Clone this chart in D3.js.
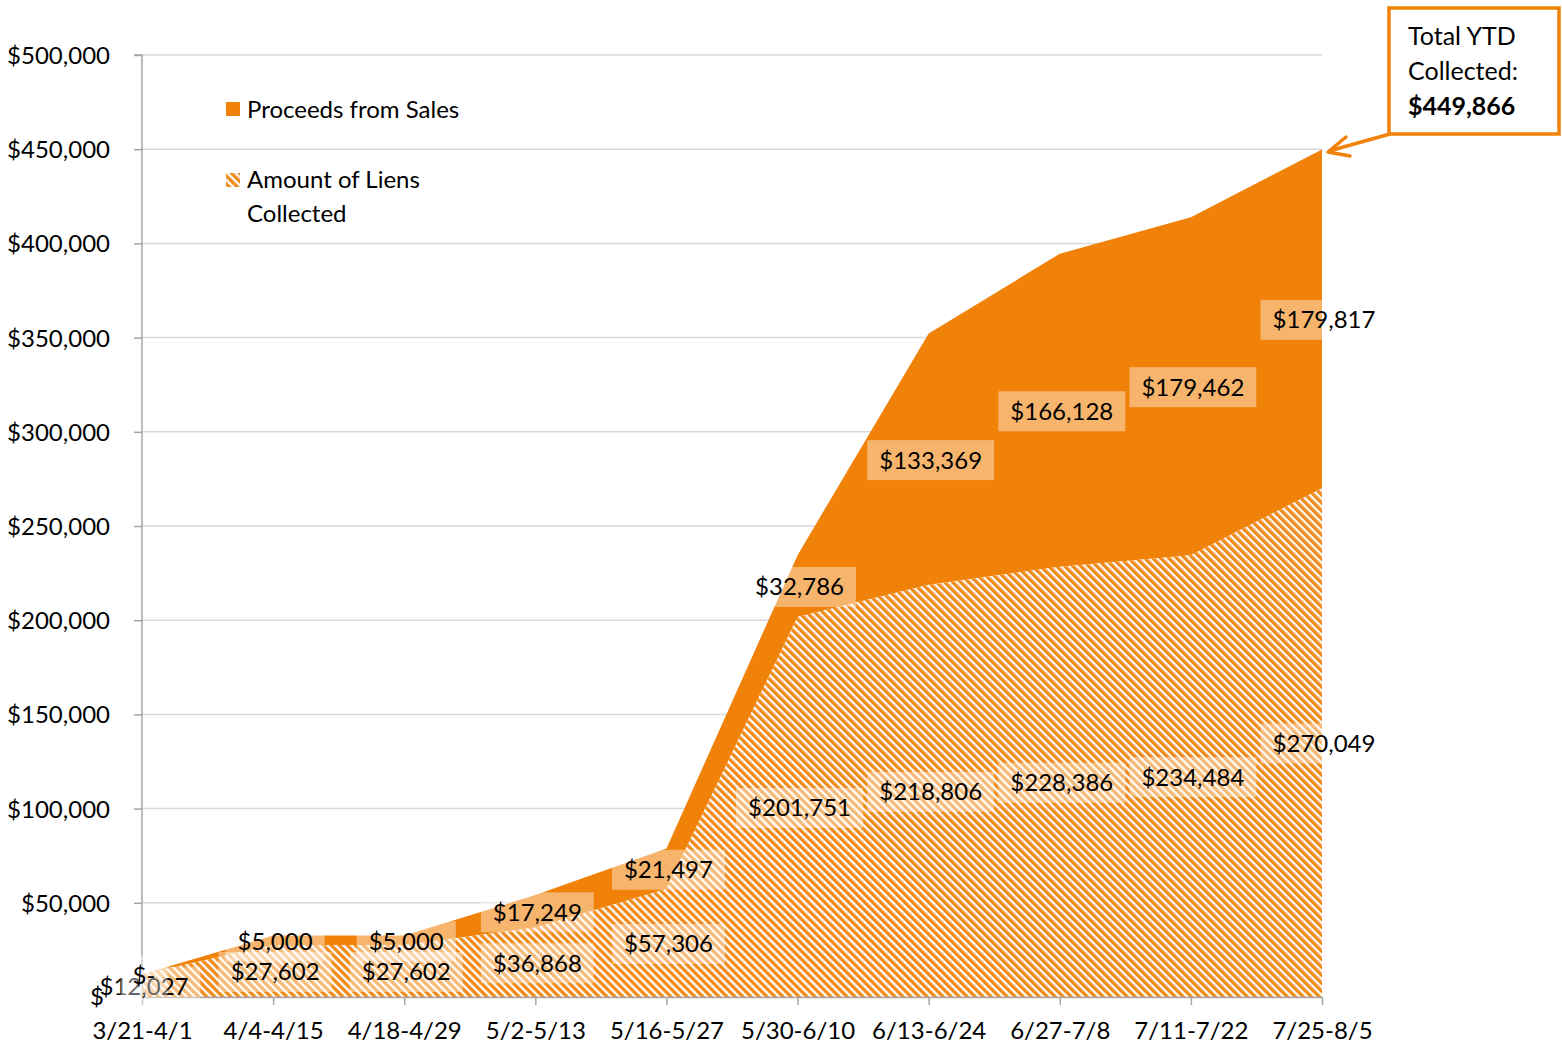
<!DOCTYPE html>
<html><head><meta charset="utf-8">
<script src="https://cdn.jsdelivr.net/npm/d3@7"></script>
<style>html,body{margin:0;padding:0;background:#fff;}svg{display:block;font-family:Lato,"Open Sans",sans-serif;}</style>
</head><body>
<svg id="c" width="1562" height="1047"></svg>
<script>
const categories = ["3/21-4/1","4/4-4/15","4/18-4/29","5/2-5/13","5/16-5/27","5/30-6/10","6/13-6/24","6/27-7/8","7/11-7/22","7/25-8/5"];
const liens = [12027,27602,27602,36868,57306,201751,218806,228386,234484,270049];
const proceeds = [0,5000,5000,17249,21497,32786,133369,166128,179462,179817];
const yTicks = [50000,100000,150000,200000,250000,300000,350000,400000,450000,500000];
const seriesNames = ["Amount of Liens Collected","Proceeds from Sales"];
const totalText = ["Total YTD","Collected:","$449,866"];

const ORANGE = "#F0820A";
const FS = 24;
const svg = d3.select("#c");
const x = d3.scalePoint().domain(categories).range([142,1322]);
const y = d3.scaleLinear().domain([0,500000]).range([997,55]);
const fmt = v => v === 0 ? "$-" : "$" + d3.format(",")(v);

const defs = svg.append("defs");
const pat = defs.append("pattern").attr("id","hatch").attr("patternUnits","userSpaceOnUse")
  .attr("width",5.66).attr("height",10).attr("patternTransform","rotate(-45)");
pat.append("rect").attr("width",5.66).attr("height",10).attr("fill","#fff");
pat.append("rect").attr("width",3.4).attr("height",10).attr("fill","#F28B1C");

// gridlines
svg.append("g").selectAll("line").data(yTicks).join("line")
  .attr("x1",142).attr("x2",1322).attr("y1",d=>y(d)).attr("y2",d=>y(d))
  .attr("stroke","#D9D9D9").attr("stroke-width",1.5);

const rows = categories.map((c,i)=>({cat:c, liens:liens[i], proceeds:proceeds[i]}));
const stack = d3.stack().keys(["liens","proceeds"])(rows);

const area = d3.area().x(d=>x(d.data.cat)).y0(d=>y(d[0])).y1(d=>y(d[1]));
svg.append("path").datum(stack[1]).attr("d",area).attr("fill",ORANGE);
svg.append("path").datum(stack[0]).attr("d",area).attr("fill","url(#hatch)");

// axes
const yAxis = d3.axisLeft(y).tickValues(yTicks).tickSize(8).tickFormat(d=>"$"+d3.format(",")(d));
const gy = svg.append("g").attr("transform","translate(142,0)").call(yAxis);
gy.select(".domain").attr("stroke","#A6A6A6").attr("stroke-width",1.5).attr("d","M-8,55H0V997");
gy.selectAll(".tick line").attr("stroke","#A6A6A6").attr("stroke-width",1.5);
gy.selectAll(".tick text").attr("font-size",FS).attr("font-family","Lato").attr("fill","#000").attr("x",-32).attr("dy","0.35em");

const xAxis = d3.axisBottom(x).tickSize(8).tickSizeOuter(0);
const gx = svg.append("g").attr("transform","translate(0,997)").call(xAxis);
gx.select(".domain").attr("stroke","#A6A6A6").attr("stroke-width",1.5);
gx.selectAll(".tick line").attr("stroke","#A6A6A6").attr("stroke-width",1.5);
gx.selectAll(".tick text").attr("font-size",FS).attr("font-family","Lato").attr("fill","#000").attr("y",25).attr("dy","0.71em");

// data labels
const labels = [];
stack.forEach(s=>{
  s.forEach(d=>{
    const v = d[1]-d[0];
    labels.push({x:x(d.data.cat)+2, y:y((d[0]+d[1])/2)+1, t:fmt(v)});
  });
});
const lg = svg.append("g");
labels.forEach(l=>{
  const g = lg.append("g");
  const r = g.append("rect");
  const t = g.append("text").attr("x",l.x).attr("y",l.y).attr("dy","0.35em")
    .attr("text-anchor","middle").attr("font-size",FS).attr("fill","#000").text(l.t);
  const bb = t.node().getBBox();
  r.attr("x",bb.x-12).attr("y",l.y-20).attr("width",bb.width+24).attr("height",40)
    .attr("fill","#fff").attr("fill-opacity",0.4);
});
// stray label char at origin
svg.append("text").attr("x",97).attr("y",1005).attr("text-anchor","middle").attr("font-size",FS).text("$");

// legend
const leg = svg.append("g");
leg.append("rect").attr("x",226).attr("y",102).attr("width",14).attr("height",14).attr("fill",ORANGE);
leg.append("text").attr("x",247).attr("y",110).attr("dy","0.35em").attr("font-size",FS).text(seriesNames[1]);
leg.append("rect").attr("x",226).attr("y",173).attr("width",14).attr("height",14).attr("fill","url(#hatch)");
const t2 = leg.append("text").attr("x",247).attr("y",180).attr("dy","0.35em").attr("font-size",FS);
t2.append("tspan").attr("x",247).text("Amount of Liens");
t2.append("tspan").attr("x",247).attr("dy","1.4em").text("Collected");

// callout
const cb = svg.append("g");
cb.append("line").attr("x1",1390).attr("y1",134).attr("x2",1329).attr("y2",151).attr("stroke",ORANGE).attr("stroke-width",3.5);
cb.append("path").attr("d","M1346,137L1328,152L1350,156").attr("fill","none").attr("stroke",ORANGE).attr("stroke-width",3.5).attr("stroke-linecap","round").attr("stroke-linejoin","round");
cb.append("rect").attr("x",1389).attr("y",8).attr("width",170).attr("height",126).attr("fill","#fff").attr("stroke",ORANGE).attr("stroke-width",3.5);
totalText.forEach((s,i)=>{
  cb.append("text").attr("x",1408).attr("y",45+i*35).attr("font-size",i===2?25:FS+1)
    .attr("font-weight",i===2?"bold":"normal").text(s);
});
</script>
</body></html>
